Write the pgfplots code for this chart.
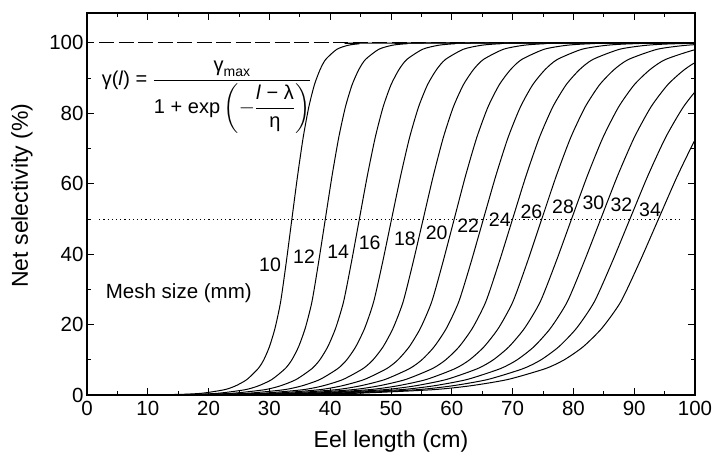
\documentclass[border=0pt]{standalone}
\usepackage{fontspec}
\setmainfont{Liberation Sans}
\usepackage{amsmath}
\usepackage{pgfplots}
\usepackage{pgfplotstable}
\pgfplotsset{compat=1.18}

\pgfplotstableread{
p     x10   x12  x14  x16   x18   x20   x22   x24  x26   x28   x30   x32   x34
0     0     0    0    0     0     0     0     0    0     0     0     0     0
0.02  7.8   8.4  8.4  8.8   9.1   8.6   8.5   8.4  8.3   7.6   7.5   7.4   7.2
0.17  15.2  17.2 18.8 20.6  22.3  23.4  24.7  26.0 27.3  28.2  29.5  30.8  32.0
0.5   18.9  21.6 24.0 26.5  28.9  30.8  32.8  34.8 36.8  38.5  40.5  42.5  44.4
1.5   22.6  26.0 29.2 32.4  35.5  38.2  40.9  43.6 46.3  48.8  51.5  54.2  56.8
2.6   24.45 28.2 31.8 35.35 38.8  41.9  44.95 48.0 51.05 53.95 57.0  60.05 63.0
4.4   26.3  30.4 34.4 38.3  42.1  45.6  49.0  52.4 55.8  59.1  62.5  65.9  69.2
7.5   28.15 32.6 37.0 41.25 45.4  49.3  53.05 56.8 60.55 64.25 68.0  71.75 75.4
10.0  29.08 33.7 38.3 42.73 47.05 51.15 55.08 59.0 62.93 66.83 70.75 74.68 78.5
13.7  30.0  34.8 39.6 44.2  48.7  53.0  57.1  61.2 65.3  69.4  73.5  77.6  81.6
19.0  30.93 35.9 40.9 45.68 50.35 54.85 59.13 63.4 67.68 71.98 76.25 80.53 84.7
26.5  31.85 37.0 42.2 47.15 52.0  56.7  61.15 65.6 70.05 74.55 79.0  83.45 87.8
37.8  32.78 38.1 43.5 48.63 53.65 58.55 63.18 67.8 72.43 77.13 81.75 86.38 90.9
50    33.7  39.2 44.8 50.1  55.3  60.4  65.2  70.0 74.8  79.7  84.5  89.3  94.0
62.2  34.63 40.3 46.1 51.58 56.95 62.25 67.23 72.2 77.18 82.28 87.25 92.23 97.1
73.1  35.55 41.4 47.4 53.05 58.6  64.1  69.25 74.4 79.55 84.85 90.0  95.15 100.2
81.8  36.48 42.5 48.7 54.53 60.25 65.95 71.28 76.6 81.93 87.43 92.75 98.08 103.3
88.1  37.4  43.6 50.0 56.0  61.9  67.8  73.3  78.8 84.3  90.0  95.5  101.0 106.4
92.4  38.33 44.7 51.3 57.48 63.55 69.65 75.33 81.0 86.68 92.58 98.25 103.93 109.5
95.3  39.25 45.8 52.6 58.95 65.2  71.5  77.35 83.2 89.05 95.15 101.0 106.85 112.6
98.2  41.1  48.0 55.2 61.9  68.5  75.2  81.4  87.6 93.8  100.3 106.5 112.7 118.8
99.33 42.95 50.2 57.8 64.85 71.8  78.9  85.45 92.0 98.55 105.45 112.0 118.55 125.0
99.75 44.8  52.4 60.4 67.8  75.1  82.6  89.5  96.4 103.3 110.6 117.5 124.4 131.2
99.97 48.5  56.8 65.6 73.7  81.7  90.0  97.6  105.2 112.8 120.9 128.5 136.1 143.6
100   150   150  150  150   150   150   150   150  150   150   150   150   150
}\sel

\begin{document}
\begin{tikzpicture}
\begin{axis}[
  name=ax,
  scale only axis,
  width=608pt, height=382pt,
  xmin=0, xmax=100, ymin=0, ymax=108.5,
  xtick={0,10,...,100}, ytick={0,20,...,100},
  minor x tick num=1, minor y tick num=1,
  tick align=inside,
  major tick length=7pt, minor tick length=4.5pt,
  every tick/.style={black, line width=0.9pt},
  axis line style={line width=1.6pt},
  /pgf/number format/assume math mode=true,
  ticklabel style={font=\fontsize{20.5}{24}\selectfont},
  xticklabel style={yshift=-3pt},
  xlabel={Eel length (cm)},
  ylabel={Net selectivity (\%)},
  label style={font=\fontsize{23}{27}\selectfont},
  xlabel style={at={(axis description cs:0.5,0)}, anchor=base, yshift=-52pt},
  ylabel style={at={(axis description cs:-0.107,0.522)}, anchor=center},
  clip=true,
]
\pgfplotsinvokeforeach{10,12,14,16,18,20,22,24,26,28,30,32,34}{
  \addplot[black, line width=1pt, smooth, tension=0.4] table[x=x#1, y=p]{\sel};
}
\addplot[black, line width=0.9pt, dash pattern=on 15pt off 4.5pt] coordinates {(2,100) (100,100)};
\addplot[black, line width=0.6pt, dash pattern=on 1.2pt off 3pt] coordinates {(2,50) (98,50)};

\begin{scope}[font=\fontsize{19.5}{22}\selectfont]
\node at (axis cs:30.1,36.9) {10};
\node at (axis cs:35.7,39.3) {12};
\node at (axis cs:41.3,40.7) {14};
\node at (axis cs:46.5,43.1) {16};
\node at (axis cs:52.3,44.5) {18};
\node at (axis cs:57.5,46.1) {20};
\node at (axis cs:62.7,48.0) {22};
\node at (axis cs:67.9,49.9) {24};
\node at (axis cs:73.1,52.1) {26};
\node at (axis cs:78.3,53.5) {28};
\node at (axis cs:83.3,54.6) {30};
\node at (axis cs:87.9,54.0) {32};
\node at (axis cs:92.6,52.6) {34};
\end{scope}
\node[font=\fontsize{20.5}{24}\selectfont] at (axis cs:15.1,28.9) {Mesh size (mm)};
\node[anchor=base west, inner sep=0pt, font=\fontsize{20}{24}\selectfont] at (axis cs:2.4,87.8)
  {γ(\textit{l}) = $\dfrac{\text{γ}_{\text{max}}}{\text{1 + exp}\left(-\dfrac{\text{\textit{l} − λ}}{\text{η}}\right)}$};
\end{axis}
\pgfresetboundingbox
\path[use as bounding box] ([xshift=-87pt,yshift=-58pt]ax.south west) rectangle ([xshift=22pt,yshift=13pt]ax.north east);
\end{tikzpicture}
\end{document}
